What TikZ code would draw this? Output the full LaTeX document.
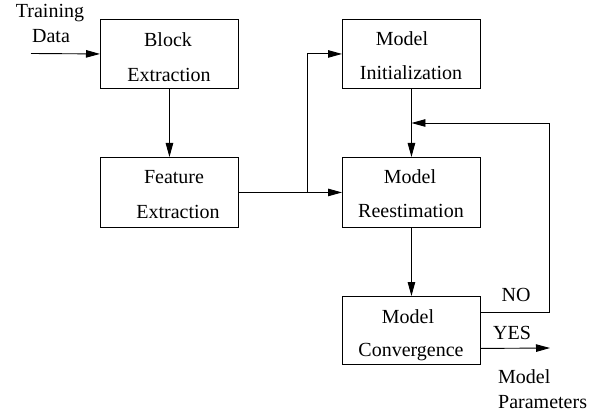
\documentclass[tikz,border=0pt]{standalone}
\usepackage{fontspec}
\setmainfont{Liberation Serif}
\usetikzlibrary{arrows.meta}
\begin{document}
\begin{tikzpicture}[x=1pt,y=-1pt,
 box/.style={draw, line width=0.9pt, minimum width=138pt, inner sep=0pt, anchor=north west},
 txt/.style={font=\fontsize{20}{22}\selectfont, inner sep=0pt, anchor=base},
 ltxt/.style={font=\fontsize{20}{22}\selectfont, inner sep=0pt, anchor=base west},
 arr/.style={line width=0.9pt, -{Triangle[length=14pt,width=7.5pt]}},
 ln/.style={line width=0.9pt}]
\useasboundingbox (0,0) rectangle (599,414);
% boxes
\node[box, minimum height=69pt] (be) at (100,19) {};
\node[box, minimum height=69pt] (mi) at (342,19) {};
\node[box, minimum height=70pt] (fe) at (100,157) {};
\node[box, minimum height=70pt] (mr) at (342,157) {};
\node[box, minimum height=68pt] (mc) at (342,296) {};
% texts
\node[txt] (t1) at (50,18) {Training};
\node[txt] (t2) at (51,43) {Data};
\node[txt] (be1) at (168,47) {Block};
\node[txt] (be2) at (169,82) {Extraction};
\node[txt] (fe1) at (174,183) {Feature};
\node[txt] (fe2) at (178,218) {Extraction};
\node[txt] (mi1) at (402,46) {Model};
\node[txt] (mi2) at (411,80) {Initialization};
\node[txt] (mr1) at (410,183) {Model};
\node[txt] (mr2) at (411,217) {Reestimation};
\node[txt] (mc1) at (408,323) {Model};
\node[txt] (mc2) at (411,356) {Convergence};
\node[txt] (no) at (516,301) {NO};
\node[txt] (yes) at (512,339) {YES};
\node[ltxt] (p1) at (498,383) {Model};
\node[ltxt] (p2) at (498,408) {Parameters};
% connectors
\coordinate (tin) at (31,53.5);
\coordinate (j) at (307,192);
\coordinate (fb) at (549,123);
\coordinate (out) at (550,348);
\draw[arr] (tin) -- (be.west);
\draw[arr] (be.south) -- (fe.north);
\draw[arr] (fe.east) -- (mr.west);
\draw[arr] (j) |- (mi.west);
\draw[arr] (mi.south) -- (mr.north);
\draw[arr] (mr.south) -- (mc.north);
\draw[arr] ([yshift=18pt]mc.east) -| (fb) -- (fb -| mi.south);
\draw[arr] ([yshift=-18pt]mc.east) -- (out);
\end{tikzpicture}
\end{document}
